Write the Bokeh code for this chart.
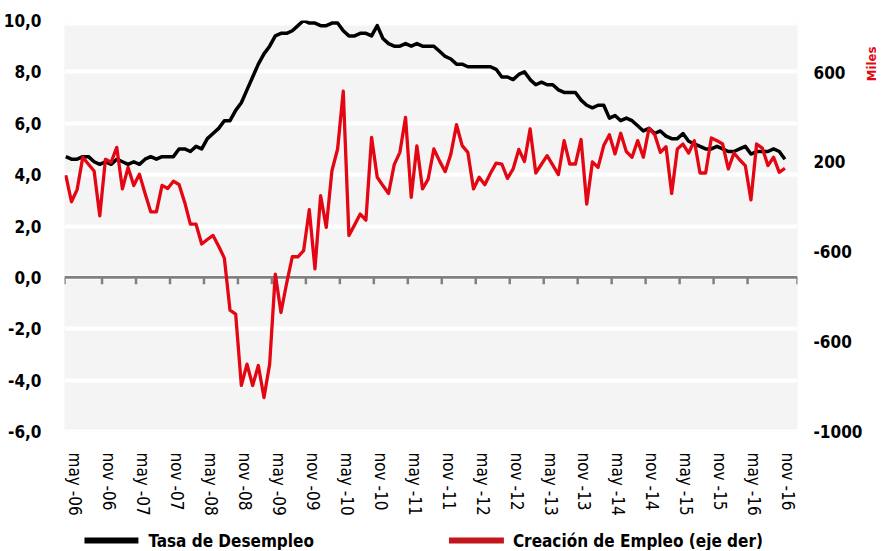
import numpy as np
import pandas as pd
from bokeh.plotting import figure
from bokeh.models import Range1d, LinearAxis, FixedTicker, Span
from bokeh.layouts import column
from bokeh.embed import file_html
from bokeh.resources import INLINE
from bokeh.core.properties import value

FONT = "DejaVu Sans Condensed"

# ---- data -------------------------------------------------------------
meses = pd.date_range("2006-04-01", "2016-11-01", freq="MS")

desempleo = [
    4.7, 4.6, 4.6, 4.7, 4.7, 4.5, 4.4, 4.5, 4.4,
    4.6, 4.5, 4.4, 4.5, 4.4, 4.6, 4.7, 4.6, 4.7, 4.7, 4.7, 5.0,
    5.0, 4.9, 5.1, 5.0, 5.4, 5.6, 5.8, 6.1, 6.1, 6.5, 6.8, 7.3,
    7.8, 8.3, 8.7, 9.0, 9.4, 9.5, 9.5, 9.6, 9.8, 10.0, 9.9, 9.9,
    9.8, 9.8, 9.9, 9.9, 9.6, 9.4, 9.4, 9.5, 9.5, 9.4, 9.8, 9.3,
    9.1, 9.0, 9.0, 9.1, 9.0, 9.1, 9.0, 9.0, 9.0, 8.8, 8.6, 8.5,
    8.3, 8.3, 8.2, 8.2, 8.2, 8.2, 8.2, 8.1, 7.8, 7.8, 7.7, 7.9,
    8.0, 7.7, 7.5, 7.6, 7.5, 7.5, 7.3, 7.2, 7.2, 7.2, 6.9, 6.7,
    6.6, 6.7, 6.7, 6.2, 6.3, 6.1, 6.2, 6.1, 5.9, 5.7, 5.8, 5.6,
    5.7, 5.5, 5.4, 5.4, 5.6, 5.3, 5.2, 5.1, 5.0, 5.0, 5.1, 5.0,
    4.9, 4.9, 5.0, 5.1, 4.8, 4.9, 4.9, 4.9, 5.0, 4.9, 4.6,
]

empleo = [
    141, 23, 77, 221, 190, 160, -40, 212, 199,
    265, 80, 176, 95, 146, 60, -22, -22, 96, 82, 114, 100,
    20, -77, -77, -165, -145, -127, -175, -228, -460, -477, -795, -700,
    -795, -706, -849, -700, -299, -470, -340, -222, -222, -195, -12, -276,
    50, -91, 161, 258, 515, -127, -80, -32, -59, 310, 132, 95,
    60, 188, 243, 399, 43, 272, 80, 124, 258, 205, 157, 235,
    366, 273, 243, 80, 132, 99, 150, 195, 191, 127, 169, 256,
    202, 347, 151, 190, 228, 186, 144, 295, 191, 191, 300, 13,
    200, 176, 273, 321, 236, 328, 246, 221, 295, 221, 350, 322,
    243, 268, 60, 258, 280, 240, 295, 151, 151, 307, 295, 280,
    169, 240, 210, 184, 31, 280, 262, 184, 221, 154, 172,
]

series = ["Tasa de Desempleo", "Creación de Empleo (eje der)"]
colores = ["#000000", "#e30613"]
color_leyenda = ["#000000", "#c3161c"]
titulo_der = "Miles"

ticks_izq = [-6, -4, -2, 0, 2, 4, 6, 8, 10]
etiquetas_izq = {t: f"{t:.1f}".replace(".", ",") for t in ticks_izq}

ticks_der = [-1000, -600, -200, 200, 600]
etiquetas_der = ["-1000", "-600", "-600", "200", "600"]
pos_titulo_der = 560

nombres_mes = {5: "may", 11: "nov"}

# ---- derived ----------------------------------------------------------
x = np.arange(len(meses))
pos_etq = [i for i, d in enumerate(meses) if d.month in nombres_mes]
desp = 0.6
ticks_x = [round(i + desp, 2) for i in pos_etq]
etq_x = {round(i + desp, 2): f"{nombres_mes[meses[i].month]} -{meses[i].strftime('%y')}"
         for i in pos_etq}

x0, x1 = -0.23, 129.22
marcas = [x0] + [round(i - desp, 2) for i in pos_etq[1:-1]] + [x1]

W = 889
LEFT, FRAME_W, TOP, FRAME_H, BOTTOM = 63, 734, 20, 411, 90
RIGHT = W - LEFT - FRAME_W
H_MAIN = TOP + FRAME_H + BOTTOM
H_LEG = 29


def plain_axis(ax, size, bold=True, color="black", standoff=10):
    ax.axis_line_color = None
    ax.major_tick_line_color = None
    ax.minor_tick_line_color = None
    ax.major_label_standoff = standoff
    ax.major_label_text_font = FONT
    ax.major_label_text_font_style = "bold" if bold else "normal"
    ax.major_label_text_font_size = size
    ax.major_label_text_color = color


# ---- main figure --------------------------------------------------------
p = figure(width=W, height=H_MAIN, x_range=Range1d(x0, x1),
           y_range=Range1d(-6, 10), output_backend="svg", toolbar_location=None,
           min_border_left=LEFT, min_border_right=RIGHT, min_border_top=TOP,
           min_border_bottom=BOTTOM)
p.background_fill_color = "#f4f4f4"
p.border_fill_color = "white"
p.outline_line_color = None
p.xgrid.visible = False
p.ygrid.ticker = FixedTicker(ticks=ticks_izq)
p.ygrid.grid_line_color = "white"
p.ygrid.grid_line_width = 4

ya = p.yaxis[0]
ya.ticker = FixedTicker(ticks=ticks_izq)
ya.major_label_overrides = etiquetas_izq
plain_axis(ya, "17px", standoff=17)

xa = p.xaxis[0]
xa.ticker = FixedTicker(ticks=ticks_x)
xa.major_label_overrides = etq_x
xa.major_label_orientation = "vertical"
plain_axis(xa, "17px", bold=False, standoff=15)

p.extra_y_ranges = {"der": Range1d(-1000, 830)}
ra = LinearAxis(y_range_name="der", ticker=FixedTicker(ticks=ticks_der),
                major_label_overrides=dict(zip(ticks_der, etiquetas_der)))
plain_axis(ra, "17px", standoff=10)
p.add_layout(ra, "right")

# unit of the right axis, written rotated (reading upwards) at the top of that axis
ma = LinearAxis(y_range_name="der", ticker=FixedTicker(ticks=[pos_titulo_der]),
                major_label_overrides={pos_titulo_der: titulo_der},
                major_label_orientation=np.pi / 2)
plain_axis(ma, "13px", color=colores[1], standoff=0)
p.add_layout(ma, "right")

p.add_layout(Span(location=10, dimension="width", line_color="white",
                  line_width=10, level="underlay"))
p.add_layout(Span(location=-6, dimension="width", line_color="white",
                  line_width=4, level="underlay"))
p.add_layout(Span(location=0, dimension="width", line_color="#808080",
                  line_width=2.7, level="underlay"))

p.segment(x0=marcas, y0=0, x1=marcas, y1=-0.27, line_color="#808080", line_width=2.5)

p.line(x, desempleo, line_color=colores[0], line_width=3.5, line_join="round")
p.line(x, empleo, y_range_name="der", line_color=colores[1], line_width=3.3,
       line_join="round")

# ---- legend strip (its frame is aligned with the main frame) ------------
q = figure(width=W, height=H_LEG, x_range=Range1d(LEFT, LEFT + FRAME_W),
           y_range=Range1d(0, H_LEG), output_backend="svg", toolbar_location=None,
           min_border=0, x_axis_type=None, y_axis_type=None)
q.outline_line_color = None
q.background_fill_color = "white"
q.grid.visible = False

q.segment(x0=[83, 448], y0=[10, 10], x1=[137, 503], y1=[10, 10],
          line_color=color_leyenda, line_width=6)
q.text(x=[147, 512], y=[10, 10], text=series, text_font=value(FONT),
       text_font_style="bold", text_font_size="17px", text_baseline="middle",
       text_color="black")

layout = column(p, q, spacing=0)
open("out.html", "w").write(file_html(layout, INLINE))
